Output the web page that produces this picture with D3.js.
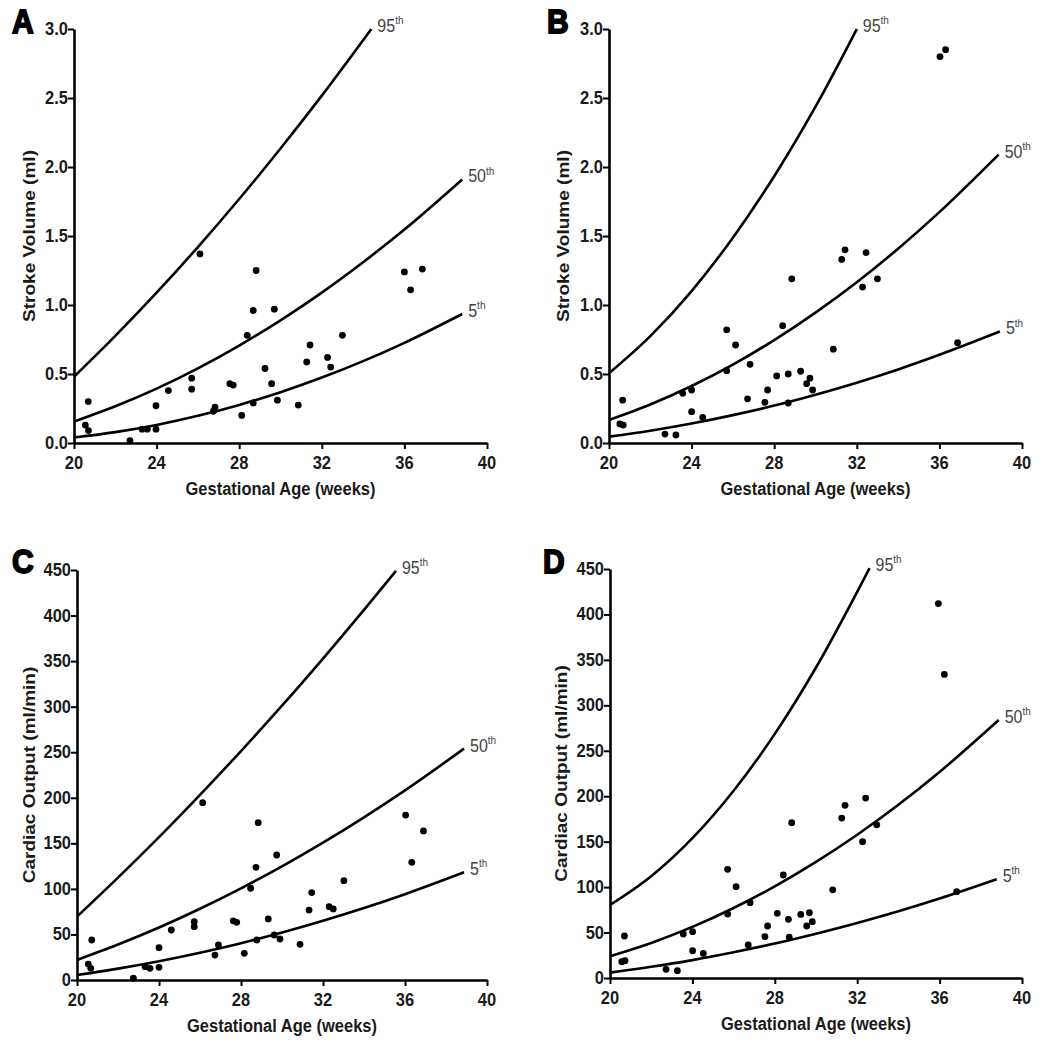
<!DOCTYPE html>
<html><head><meta charset="utf-8">
<script src="https://cdn.jsdelivr.net/npm/d3@7"></script>
<style>body{margin:0;background:#fff}svg{display:block}</style>
</head><body><svg id="c" width="1050" height="1050"></svg>
<script>
// ---------- data ----------
const xTicks = [20, 24, 28, 32, 36, 40];
const svTicks = [0.0, 0.5, 1.0, 1.5, 2.0, 2.5, 3.0];
const coTicks = [0, 50, 100, 150, 200, 250, 300, 350, 400, 450];
const xTitle = "Gestational Age (weeks)";
const svTitle = "Stroke Volume (ml)";
const coTitle = "Cardiac Output (ml/min)";
const pctLabels = ["95", "50", "5"];

// percentile curves: [week, value]
const A95 = [[20,0.48],[22,0.776],[24,1.089],[26,1.42],[28,1.768],[30,2.134],[32,2.517],[34.4,3.0]];
const A50 = [[20,0.155],[22,0.266],[24,0.394],[26,0.541],[28,0.706],[30,0.889],[32,1.09],[34,1.31],[36,1.547],[38.8,1.91]];
const A5  = [[20,0.04],[22,0.079],[24,0.131],[26,0.197],[28,0.276],[30,0.368],[32,0.474],[34,0.593],[36,0.726],[38.8,0.935]];
const B95 = [[20,0.505],[22,0.774],[24,1.101],[26,1.488],[28,1.933],[30,2.437],[32,3.0]];
const B50 = [[20,0.167],[22,0.279],[24,0.413],[26,0.568],[28,0.746],[30,0.945],[32,1.165],[34,1.408],[36,1.673],[38.87,2.09]];
const B5  = [[20,0.046],[22,0.089],[24,0.141],[26,0.202],[28,0.271],[30,0.35],[32,0.437],[34,0.533],[36,0.639],[38.93,0.808]];
const C95 = [[20,69.5],[22,112.3],[24,156.8],[26,203.2],[28,251.3],[30,301.1],[32,352.8],[34,406.2],[35.56,449]];
const C50 = [[20,22],[22,38.9],[24,57.6],[26,78.2],[28,100.6],[30,124.7],[32,150.7],[34,178.5],[36,208.1],[38.88,253.9]];
const C5  = [[20,5.5],[22,12.5],[24,20.6],[26,29.9],[28,40.4],[30,52.1],[32,65],[34,79],[36,94.2],[38.88,118.2]];
const D95 = [[20,80.3],[22,111.9],[24,153.8],[26,206],[28,268.6],[30,341.6],[32,424.9],[32.6,451]];
const D50 = [[20,24],[22,38.6],[24,56.2],[26,77],[28,100.8],[30,127.7],[32,157.6],[34,190.6],[36,226.7],[38.87,283.8]];
const D5  = [[20,5.9],[22,12.3],[24,19.7],[26,28.3],[28,37.9],[30,48.7],[32,60.5],[34,73.4],[36,87.4],[38.77,108.6]];

// measured points: [week, value]
const ptsA = [[20.69,0.30],[20.55,0.13],[20.7,0.09],[22.71,0.017],[23.3,0.10],[23.55,0.10],[23.97,0.10],[23.97,0.27],
  [24.57,0.38],[25.7,0.47],[25.7,0.39],[26.1,1.37],[26.83,0.26],[26.75,0.23],[27.55,0.43],[27.71,0.42],[28.12,0.20],
  [28.39,0.78],[28.68,0.96],[28.82,1.25],[28.68,0.29],[29.7,0.97],[29.25,0.54],[29.57,0.43],[29.85,0.31],[30.86,0.275],
  [31.27,0.587],[31.43,0.71],[32.28,0.62],[32.43,0.55],[33.0,0.78],[36.0,1.24],[36.3,1.11],[36.87,1.26]];
const ptsB = [[20.66,0.31],[20.53,0.138],[20.69,0.13],[22.71,0.065],[23.24,0.058],[23.57,0.36],[24.0,0.384],[24.0,0.227],
  [24.54,0.186],[25.7,0.82],[25.7,0.524],[26.13,0.71],[26.83,0.57],[26.71,0.32],[27.68,0.384],[27.55,0.295],[28.12,0.486],
  [28.41,0.85],[28.68,0.50],[28.68,0.29],[28.85,1.19],[29.28,0.52],[29.73,0.47],[29.57,0.43],[29.86,0.384],[30.86,0.68],
  [31.27,1.33],[31.43,1.40],[32.45,1.38],[32.28,1.13],[33.0,1.19],[36.03,2.80],[36.3,2.85],[36.88,0.727]];
const ptsC = [[20.72,43.9],[20.55,17.5],[20.67,12.8],[22.75,1.9],[23.32,14.6],[23.56,12.8],[24.0,13.9],[24.0,35.5],
  [24.6,54.9],[25.72,64],[25.72,58.5],[26.13,194.6],[26.9,38.4],[26.73,27.4],[27.62,65],[27.79,63.3],[28.16,29.3],
  [28.47,100.7],[28.73,123.7],[28.84,172.7],[28.77,43.9],[29.74,137.2],[29.33,67],[29.62,49.4],[29.9,45],[30.88,39.2],
  [31.32,76.8],[31.45,95.9],[32.3,80.5],[32.5,78],[33.02,109],[36.03,181],[36.33,129.2],[36.9,163.6]];
const ptsD = [[20.7,46.2],[20.57,17.9],[20.73,19],[22.72,9.5],[23.27,8.1],[23.56,48.4],[24.01,51],[24.01,30],
  [24.53,27],[25.71,119.6],[25.71,70.4],[26.12,100.5],[26.8,82.9],[26.71,36.3],[27.65,57.2],[27.52,45.5],[28.12,71.2],
  [28.41,113.3],[28.66,64.6],[28.7,45],[28.82,170.9],[29.26,70],[29.68,71.8],[29.55,57.2],[29.82,62],[30.81,97],
  [31.25,176],[31.41,190],[32.41,198],[32.26,150],[32.95,168.5],[35.94,412],[36.23,334],[36.83,95]];

// ---------- layout ----------
const panels = [
  {letter:"A", lx:12, ly:33, px:[74,487], py:[443,29], dom:[0,3], ticks:svTicks, fmt:d3.format(".1f"), title:svTitle, tx:35, curves:[A95,A50,A5], pts:ptsA},
  {letter:"B", lx:547, ly:33, px:[609,1022], py:[443,29], dom:[0,3], ticks:svTicks, fmt:d3.format(".1f"), title:svTitle, tx:569, curves:[B95,B50,B5], pts:ptsB},
  {letter:"C", lx:12, ly:573, px:[77,487], py:[980,570], dom:[0,450], ticks:coTicks, fmt:d3.format("d"), title:coTitle, tx:35, curves:[C95,C50,C5], pts:ptsC},
  {letter:"D", lx:543, ly:573, px:[610,1022], py:[978,569], dom:[0,450], ticks:coTicks, fmt:d3.format("d"), title:coTitle, tx:567, curves:[D95,D50,D5], pts:ptsD}
];
const FONT = "'Liberation Sans', Arial, sans-serif";
const SY = 1.12; // vertical stretch of text seen in reference

const svg = d3.select("#c");
svg.append("rect").attr("width",1050).attr("height",1050).attr("fill","#fff");

function stretchText(g, x, y, str, opts) {
  const t = g.append("text")
    .attr("transform", `translate(${x},${y}) scale(1,${SY})` + (opts.rotate ? ` rotate(${opts.rotate})` : ""))
    .attr("font-family", FONT).attr("font-size", opts.size).attr("font-weight", opts.weight || "normal")
    .attr("fill", opts.fill || "#111").attr("text-anchor", opts.anchor || "start").text(str);
  return t;
}

panels.forEach(p => {
  const g = svg.append("g");
  const x = d3.scaleLinear().domain([20,40]).range(p.px);
  const y = d3.scaleLinear().domain(p.dom).range(p.py);

  // panel letter
  stretchText(g, p.lx, p.ly, p.letter, {size:30, weight:"bold", fill:"#000"})
    .attr("stroke","#000").attr("stroke-width",1.6);

  // y axis
  const ya = g.append("g").attr("transform",`translate(${p.px[0]},0)`)
    .call(d3.axisLeft(y).tickValues(p.ticks).tickFormat(p.fmt).tickSize(6).tickSizeOuter(0));
  ya.select(".domain").attr("stroke","#000").attr("stroke-width",2.6);
  ya.selectAll(".tick line").attr("stroke","#000").attr("stroke-width",2);
  ya.selectAll(".tick text").remove();
  p.ticks.forEach(v => stretchText(g, p.px[0]-6, y(v)+6, p.fmt(v), {size:16.5, weight:"bold", anchor:"end", fill:"#1a1a1a"}));

  // x axis
  const xa = g.append("g").attr("transform",`translate(0,${p.py[0]})`)
    .call(d3.axisBottom(x).tickValues(xTicks).tickFormat(d3.format("d")).tickSize(6).tickSizeOuter(0));
  xa.select(".domain").attr("stroke","#000").attr("stroke-width",2.6);
  xa.selectAll(".tick line").attr("stroke","#000").attr("stroke-width",2);
  xa.selectAll(".tick text").remove();
  xTicks.forEach(v => stretchText(g, x(v), p.py[0]+26, String(v), {size:16.5, weight:"bold", anchor:"middle", fill:"#1a1a1a"}));

  // titles
  stretchText(g, (p.px[0]+p.px[1])/2, p.py[0]+52, xTitle, {size:16.5, weight:"bold", anchor:"middle", fill:"#1a1a1a"});
  g.append("text")
    .attr("transform", `translate(${p.tx},${(p.py[0]+p.py[1])/2}) scale(${1},${SY}) rotate(-90)`)
    .attr("font-family", FONT).attr("font-size", 17).attr("font-weight","bold").attr("fill","#1a1a1a")
    .attr("text-anchor","middle").text(p.title);

  // curves
  const line = d3.line().x(d => x(d[0])).y(d => y(d[1])).curve(d3.curveMonotoneX);
  p.curves.forEach((c, i) => {
    g.append("path").datum(c).attr("d", line).attr("fill","none").attr("stroke","#000").attr("stroke-width",2.6);
    const last = c[c.length-1];
    const t = g.append("text")
      .attr("transform", `translate(${x(last[0])+6},${y(last[1])+3}) scale(1,${SY})`)
      .attr("font-family", FONT).attr("font-size", 16).attr("fill","#444");
    t.append("tspan").text(pctLabels[i]);
    t.append("tspan").attr("font-size", 10).attr("dy", -7).text("th");
  });

  // points
  g.append("g").selectAll("circle").data(p.pts).join("circle")
    .attr("cx", d => x(d[0])).attr("cy", d => y(d[1])).attr("r", 3.4).attr("fill","#000");
});
</script></body></html>
